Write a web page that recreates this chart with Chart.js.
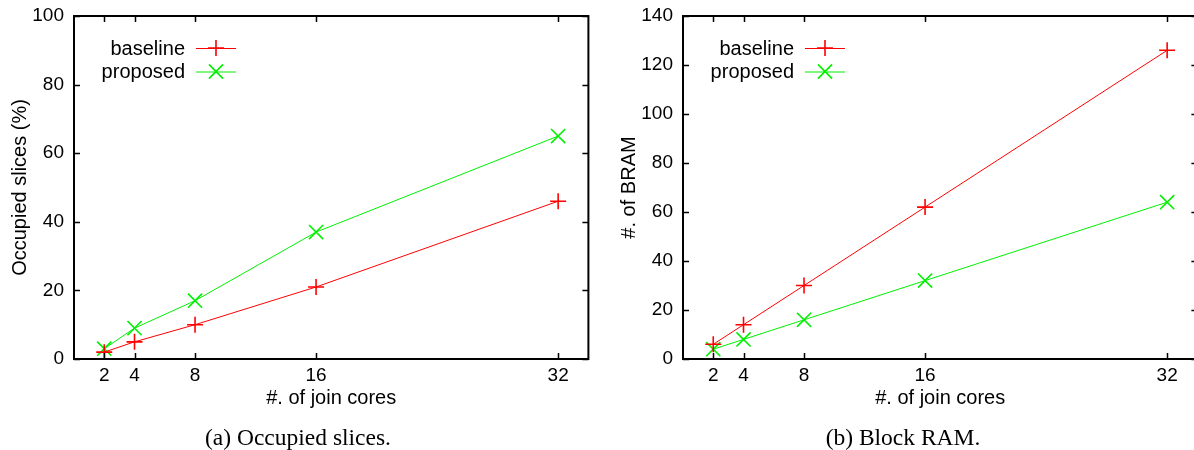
<!DOCTYPE html>
<html>
<head>
<meta charset="utf-8">
<script src="https://cdn.jsdelivr.net/npm/chart.js@4/dist/chart.umd.min.js"></script>
<style>
  html, body { margin: 0; padding: 0; background: #fff; overflow: hidden; width: 1194px; height: 450px; }
  canvas { position: absolute; top: 0; }
  .cap { position: absolute; top: 425px; width: 300px; text-align: center; font-family: "Liberation Serif", "Times New Roman", serif; font-size: 23.5px; line-height: 24px; color: #000; }
</style>
</head>
<body>
<canvas id="c1" width="600" height="450" style="left:0px"></canvas>
<canvas id="c2" width="600" height="450" style="left:609px"></canvas>
<div class="cap" style="left:148px">(a) Occupied slices.</div>
<div class="cap" style="left:753px">(b) Block RAM.</div>
<script>
// ---- data ----
const cores = [2, 4, 8, 16, 32];
const xTicks = [2, 4, 8, 16, 32];
const slicesBaseline = [2, 5, 10, 21, 46];
const slicesProposed = [3, 9, 17, 37, 65];
const bramBaseline = [6, 14, 30, 62, 126];
const bramProposed = [4, 8, 16, 32, 64];
const seriesNames = ['baseline', 'proposed'];

const RED = '#ff0000';
const GREEN = '#00f000';
const SANS = '"Liberation Sans", Arial, Helvetica, sans-serif';

function pts(ys) { return cores.map((x, i) => ({ x: x, y: ys[i] })); }

const framePlugin = {
  id: 'frame',
  afterDatasetsDraw(chart) {
    const { ctx, chartArea: a, scales } = chart;
    ctx.save();
    ctx.strokeStyle = '#000';
    ctx.lineWidth = 1.5;
    const tl = 6;
    ctx.beginPath();
    scales.x.ticks.forEach(t => {
      const px = Math.round(scales.x.getPixelForValue(t.value)) + 0.5;
      ctx.moveTo(px, a.bottom); ctx.lineTo(px, a.bottom - tl);
      ctx.moveTo(px, a.top); ctx.lineTo(px, a.top + tl);
    });
    scales.y.ticks.forEach(t => {
      const py = Math.round(scales.y.getPixelForValue(t.value)) + 0.5;
      ctx.moveTo(a.left, py); ctx.lineTo(a.left + tl, py);
      ctx.moveTo(a.right, py); ctx.lineTo(a.right - tl, py);
    });
    ctx.stroke();
    ctx.lineWidth = 2;
    ctx.strokeRect(a.left, a.top, a.right - a.left, a.bottom - a.top);
    // legend (gnuplot style: text left, sample right)
    ctx.font = '20px ' + SANS;
    ctx.textAlign = 'right';
    ctx.textBaseline = 'middle';
    chart.data.datasets.forEach((ds, i) => {
      const y = a.top + 32 + i * 23.5;
      ctx.fillStyle = '#000';
      ctx.fillText(ds.label, a.left + 111, y + 1);
      ctx.strokeStyle = ds.borderColor;
      ctx.lineWidth = 1;
      ctx.beginPath();
      ctx.moveTo(a.left + 122, y + 0.5); ctx.lineTo(a.left + 162, y + 0.5);
      ctx.stroke();
      ctx.lineWidth = ds.pointBorderWidth;
      Chart.helpers.drawPoint(ctx, { pointStyle: ds.pointStyle, radius: ds.pointRadius, borderWidth: ds.pointBorderWidth, rotation: 0 }, a.left + 142, y);
    });
    ctx.restore();
  }
};

function makeChart(id, base, prop, ymax, ylabel, padRight) {
  return new Chart(document.getElementById(id), {
    type: 'line',
    data: {
      datasets: [
        { label: seriesNames[0], data: pts(base), borderColor: RED, backgroundColor: RED, borderWidth: 1,
          pointStyle: 'cross', pointRadius: 8, pointBorderWidth: 1.6, pointBorderColor: RED },
        { label: seriesNames[1], data: pts(prop), borderColor: GREEN, backgroundColor: GREEN, borderWidth: 1,
          pointStyle: 'crossRot', pointRadius: 10, pointBorderWidth: 1.6, pointBorderColor: GREEN }
      ]
    },
    options: {
      responsive: false,
      animation: false,
      devicePixelRatio: 1,
      layout: { padding: { top: 16, right: padRight, left: 0, bottom: 0 } },
      plugins: { legend: { display: false }, tooltip: { enabled: false } },
      elements: { line: { tension: 0 } },
      scales: {
        x: {
          type: 'linear', min: 0, max: 34,
          afterBuildTicks(s) { s.ticks = xTicks.map(v => ({ value: v })); },
          afterFit(s) { s.height = 91; s.paddingLeft = 0; s.paddingRight = 0; },
          grid: { display: false, drawTicks: false },
          border: { display: false },
          ticks: { color: '#000', font: { family: SANS, size: 19 }, padding: 5, maxRotation: 0, autoSkip: false },
          title: { display: true, text: '#. of join cores', color: '#000', font: { family: SANS, size: 20 }, padding: { top: 0, bottom: 40 } }
        },
        y: {
          min: 0, max: ymax,
          ticks: { stepSize: 20, color: '#000', font: { family: SANS, size: 19 }, padding: 10 },
          afterFit(s) { s.width = 74; s.paddingTop = 4; s.paddingBottom = 4; },
          grid: { display: false, drawTicks: false },
          border: { display: false },
          title: { display: true, text: ylabel, color: '#000', font: { family: SANS, size: 20 }, padding: { top: 8, bottom: 0 } }
        }
      }
    },
    plugins: [framePlugin]
  });
}

makeChart('c1', slicesBaseline, slicesProposed, 100, 'Occupied slices (%)', 10);
makeChart('c2', bramBaseline, bramProposed, 140, '#. of BRAM', 11);
</script>
</body>
</html>
